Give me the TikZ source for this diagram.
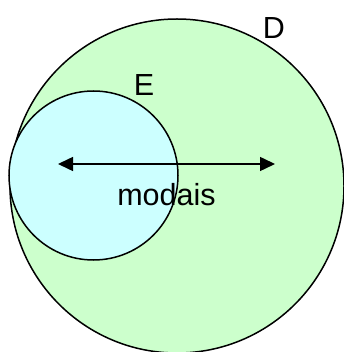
\documentclass[tikz,border=0pt]{standalone}
\usepackage{fontspec}
\setmainfont{Liberation Sans}
\usetikzlibrary{arrows.meta}
\definecolor{bigfill}{HTML}{CCFFCC}
\definecolor{smallfill}{HTML}{CCFFFF}
\tikzset{
  setcircle/.style={circle, draw=black, line width=1.5pt, inner sep=0pt},
  lbl/.style={inner sep=0pt, font=\fontsize{30.5}{32}\selectfont},
  dimarrow/.style={line width=1.5pt, {Triangle[length=15pt,width=14pt]}-{Triangle[length=15pt,width=14pt]}}
}
\begin{document}
\begin{tikzpicture}[x=1pt,y=-1pt]
\useasboundingbox (0,0) rectangle (344,352);
\node[setcircle, fill=bigfill, minimum size=334pt] (D) at (177,186) {};
\node[setcircle, fill=smallfill, minimum size=169pt] (E) at (93.5,175.5) {};
\node[lbl] (Dl) at (274,28) {D};
\node[lbl] (El) at (144,85) {E};
\coordinate (al) at (58,164);
\coordinate (ar) at (275,164);
\draw[dimarrow] (al) -- (ar);
\node[lbl, anchor=base] (m) at (166.5,205) {modais};
\end{tikzpicture}
\end{document}
